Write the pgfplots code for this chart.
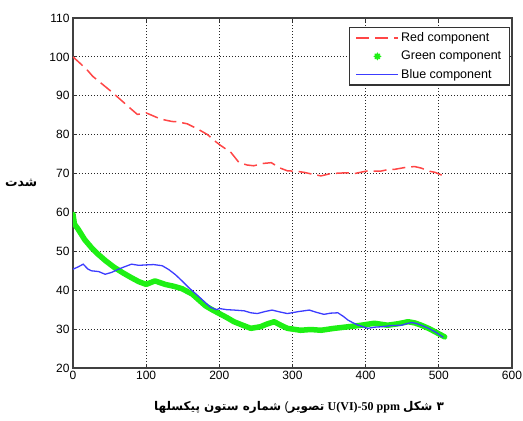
\documentclass[border=0pt]{standalone}
\usepackage{fontspec}
\setmainfont{Liberation Sans}
\newfontfamily\arabicfont[Script=Arabic]{DejaVu Sans}
\newfontfamily\seriffont{Liberation Serif}
\TeXXeTstate=1
\usepackage{pgfplots}
\pgfplotsset{compat=1.18}
\definecolor{redc}{RGB}{255,70,70}
\definecolor{greenc}{RGB}{30,240,20}
\definecolor{bluec}{RGB}{60,60,255}
\begin{document}
\begin{tikzpicture}
\path[use as bounding box] (-73pt,-53pt) rectangle (450pt,368pt);
\begin{axis}[
  at={(0,0)}, anchor=south west,
  scale only axis, width=439pt, height=350pt,
  xmin=0, xmax=600, ymin=20, ymax=110,
  xtick={0,100,...,600}, ytick={20,30,...,110},
  grid=major,
  major grid style={black!85, line width=0.9pt, dash pattern=on 1.4pt off 1.6pt},
  axis line style={black!75, line width=1.5pt},
  tick align=inside, tick pos=both, major tick length=4pt,
  tick style={black!80, line width=1pt},
  ticklabel style={font=\fontsize{12}{14}\selectfont},
  /pgf/number format/assume math mode=true,
  /pgf/number format/1000 sep={},
  xlabel={\hbox{\arabicfont\bfseries\beginR شماره ستون پیکسلها\endR}\hbox{ (}\hbox{\arabicfont\bfseries\beginR تصویر\endR}\hbox{ \seriffont\bfseries U(VI)-50 ppm }\hbox{\arabicfont\bfseries\beginR شکل\endR}\hbox{\arabicfont\bfseries\ ۳}},
  xlabel style={at={(axis description cs:0.515,-0.114)}, anchor=center, font=\fontsize{12}{14}\selectfont},
  ylabel={\hbox{\arabicfont\bfseries\beginR شدت\endR}},
  ylabel style={at={(axis description cs:-0.118,0.529)}, anchor=center, rotate=-90, font=\fontsize{12.5}{14}\selectfont},
  legend cell align=left,
  legend style={at={(0.995,0.974)}, anchor=north east, draw=black!80, line width=1.1pt,
    font=\fontsize{12.5}{14}\selectfont, inner xsep=6pt, inner ysep=3pt, row sep=4pt},
]
\addplot[redc, line width=1.5pt, dash pattern=on 13pt off 6pt,
  legend image code/.code={\draw[redc, line width=1.5pt, dash pattern=on 13pt off 6pt] (0pt,0pt) -- (42pt,0pt);}] coordinates {
(0,100) (10,98.3) (20,96.5) (27,95) (40,93) (51,91.3) (65,89) (80,86.5) (88,85.2)
(100,85.6) (110,84.8) (120,84) (135,83.4) (143,83.3) (156,82.8) (170,81.5) (184,80)
(195,78.2) (202,77.2) (216,75.4) (227,72.8) (238,72.2) (247,72) (260,72.6) (271,72.8)
(282,71.5) (293,70.7) (305,70.6) (316,70.3) (328,69.8) (339,69.4) (350,69.9) (362,70.1)
(375,70.2) (385,70) (395,70.4) (403,70.7) (420,70.6) (430,71) (440,71.1) (455,71.6)
(467,71.8) (476,71.4) (487,70.6) (495,70.3) (504,69.6)};
\addlegendentry{Red component}
\addplot[greenc, line width=5.5pt, line join=round, line cap=round,
  legend image code/.code={\draw[greenc, line width=1.6pt] (21pt,-3.2pt) -- (21pt,3.2pt) (17.8pt,0pt) -- (24.2pt,0pt) (18.8pt,-2.2pt) -- (23.2pt,2.2pt) (18.8pt,2.2pt) -- (23.2pt,-2.2pt);}] coordinates {
(0,59.5) (2,57) (7,55.7) (16,53) (25,51) (34,49.3) (45,47.5) (57,45.8) (68,44.5)
(80,43.2) (90,42.2) (100,41.5) (112,42.4) (126,41.5) (138,41) (149,40.4) (163,39)
(172,37.5) (181,36) (190,35) (200,34) (210,33) (220,31.9) (232,31) (243,30.2)
(256,30.6) (265,31.3) (275,31.9) (284,31) (293,30.2) (311,29.7) (325,29.9) (339,29.7)
(357,30.2) (376,30.6) (394,31) (412,31.5) (430,31) (445,31.4) (458,31.9) (467,31.6)
(476,31) (487,30.1) (495,29.3) (502,28.6) (508,28)};
\addlegendentry{Green component}
\addplot[bluec, line width=1.3pt,
  legend image code/.code={\draw[bluec, line width=1.3pt] (0pt,0pt) -- (42pt,0pt);}] coordinates {
(0,45.4) (7,46) (14,46.7) (20,45.5) (25,45) (35,44.8) (44,44.1) (53,44.6) (62,45.4)
(70,46) (80,46.7) (90,46.4) (99,46.5) (110,46.6) (122,46.3) (131,45.3) (140,44)
(149,42.4) (158,40.7) (170,38.7) (181,36.8) (188,35.6) (196,35) (200,35.3) (210,35)
(220,34.9) (234,34.7) (243,34.2) (252,34) (262,34.5) (272,34.9) (283,34.4) (293,34)
(308,34.5) (323,34.9) (333,34.3) (343,33.8) (352,34.1) (362,34.2) (370,33.2) (376,32.3)
(383,31.6) (390,31) (403,30.2) (412,30.5) (421,30.6) (435,30.9) (449,31) (456,31.4)
(463,31.7) (470,31.4) (476,31) (486,30.2) (495,29.3) (506,27.9)};
\addlegendentry{Blue component}
\end{axis}
\end{tikzpicture}
\end{document}
